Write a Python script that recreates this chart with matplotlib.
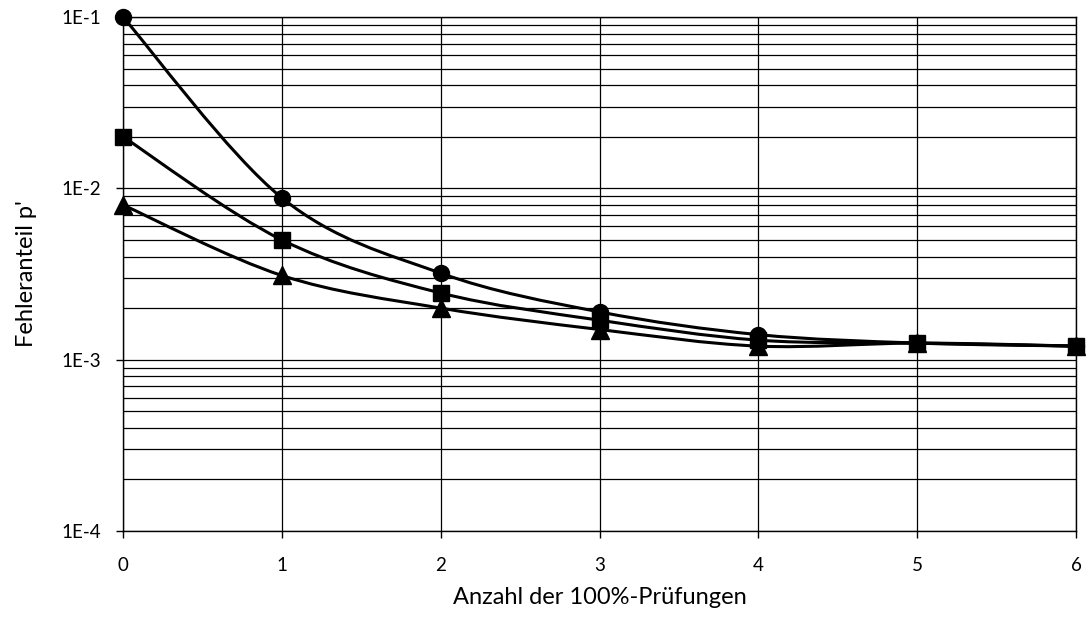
import matplotlib.pyplot as plt
import numpy as np
from matplotlib.path import Path
from matplotlib.patches import PathPatch
from matplotlib.ticker import FixedLocator, LogLocator, NullFormatter

plt.rcParams['font.family'] = ['Lato', 'DejaVu Sans']

# number of 100% inspections
x = [0, 1, 2, 3, 4, 5, 6]
# fraction defective p' for the three curves
p_circle = [0.1, 0.0088, 0.0032, 0.0019, 0.0014, 0.00125, 0.0012]
p_square = [0.02, 0.005, 0.00245, 0.0017, 0.0013, 0.00125, 0.0012]
p_triangle = [0.008, 0.0031, 0.002, 0.0015, 0.0012, 0.00125, 0.0012]

y_ticks = [1e-4, 1e-3, 1e-2, 1e-1]
y_ticklabels = ['1E-4', '1E-3', '1E-2', '1E-1']


def smooth_path(xs, ys):
    # Excel-like smoothed line: cubic Bezier through points, built in (x, log y)
    lx = np.array(xs, dtype=float)
    ly = np.log10(np.array(ys, dtype=float))
    n = len(lx)
    verts = [(lx[0], ly[0])]
    codes = [Path.MOVETO]
    for i in range(n - 1):
        i0 = max(i - 1, 0)
        i3 = min(i + 2, n - 1)
        c1 = (lx[i] + (lx[i + 1] - lx[i0]) / 6, ly[i] + (ly[i + 1] - ly[i0]) / 6)
        c2 = (lx[i + 1] - (lx[i3] - lx[i]) / 6, ly[i + 1] - (ly[i3] - ly[i]) / 6)
        verts += [c1, c2, (lx[i + 1], ly[i + 1])]
        codes += [Path.CURVE4] * 3
    verts = [(vx, 10 ** vy) for vx, vy in verts]
    return Path(verts, codes)


fig = plt.figure(figsize=(10.87, 6.17), dpi=100)
ax = fig.add_axes([0.1132, 0.1394, 0.8767, 0.8330])

for ys, mk, ms in [(p_circle, 'o', 11.5), (p_square, 's', 11.5), (p_triangle, '^', 13.5)]:
    ax.add_patch(PathPatch(smooth_path(x, ys), facecolor='none', edgecolor='black',
                           lw=2.2, zorder=3, clip_on=False))
    ax.plot(x, ys, linestyle='none', marker=mk, ms=ms, color='black',
            zorder=4, clip_on=False)

ax.set_yscale('log')
ax.set_xlim(0, 6)
ax.set_ylim(1e-4, 1e-1)
ax.set_xticks(x)
ax.yaxis.set_major_locator(FixedLocator(y_ticks))
ax.set_yticklabels(y_ticklabels)
ax.yaxis.set_minor_locator(LogLocator(base=10, subs=np.arange(2, 10)))
ax.yaxis.set_minor_formatter(NullFormatter())

ax.grid(True, which='major', axis='both', color='black', lw=0.9)
ax.grid(True, which='minor', axis='y', color='black', lw=0.9)
ax.set_axisbelow(True)

ax.tick_params(axis='both', which='major', direction='out', length=5, width=1,
               labelsize=13.5, color='black')
ax.tick_params(axis='y', which='minor', length=0)
ax.tick_params(axis='x', pad=14)
ax.tick_params(axis='y', pad=11)
for s in ax.spines.values():
    s.set_color('black')
    s.set_linewidth(1)

ax.set_xlabel('Anzahl der 100%-Prüfungen', fontsize=17, labelpad=9)
ax.set_ylabel("Fehleranteil p'", fontsize=17, labelpad=17)

fig.savefig('out.png', dpi=100)
